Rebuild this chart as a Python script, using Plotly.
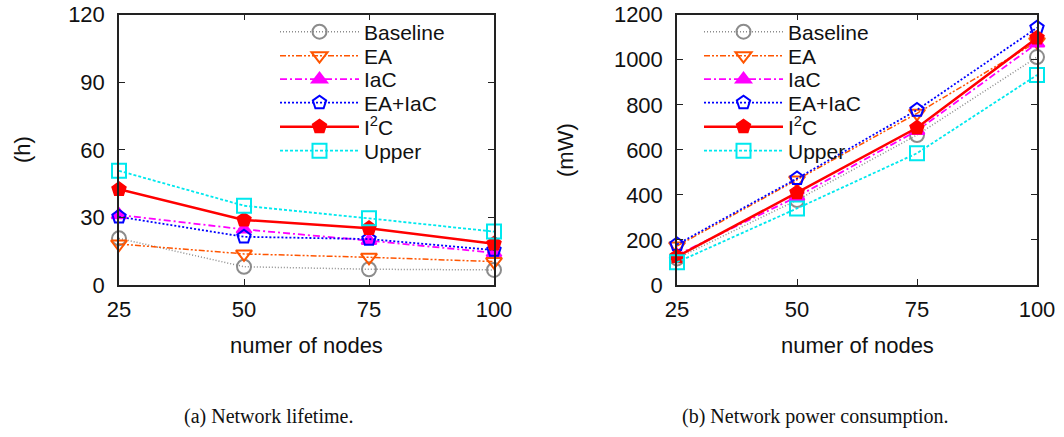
import plotly.graph_objects as go

# x: number of nodes
nodes = [25, 50, 75, 100]

# (a) network lifetime in hours
life_baseline = [20.7, 8.1, 7.0, 6.7]
life_ea = [18.2, 13.8, 12.3, 10.4]
life_iac = [31.1, 24.7, 19.7, 14.3]
life_eaiac = [30.3, 21.4, 20.4, 15.5]
life_i2c = [42.5, 28.9, 25.2, 18.3]
life_upper = [50.7, 35.2, 29.6, 23.7]

# (b) network power consumption in mW
pow_baseline = [118, 377, 666, 1012]
pow_ea = [173, 466, 762, 1080]
pow_iac = [133, 392, 685, 1073]
pow_eaiac = [180, 473, 777, 1142]
pow_i2c = [126, 410, 698, 1097]
pow_upper = [101, 340, 585, 932]

names = ["Baseline", "EA", "IaC", "EA+IaC", "I<sup>2</sup>C", "Upper"]
life = [life_baseline, life_ea, life_iac, life_eaiac, life_i2c, life_upper]
power = [pow_baseline, pow_ea, pow_iac, pow_eaiac, pow_i2c, pow_upper]

styles = [
    dict(color="#8c8c8c", dash="1px,2px", width=1.5, symbol="circle-open"),
    dict(color="#ff5500", dash="6px,2px,2px,2px,2px,2px", width=1.5, symbol="triangle-down-open"),
    dict(color="#ff00ff", dash="7px,3px,2px,3px", width=1.8, symbol="triangle-up"),
    dict(color="#0000ff", dash="2px,2px", width=1.8, symbol="pentagon-open"),
    dict(color="#ff0000", dash="solid", width=2.5, symbol="pentagon"),
    dict(color="#00e8ee", dash="3px,2px", width=1.8, symbol="square-open"),
]

W, H = 1064, 437
FONT = "Liberation Sans, Arial, sans-serif"
FS = 22

# legend rows (pixel centres) and left edges of each panel's key
row_y = [32, 56, 79.5, 103, 127, 151]
key_x = [275, 699]

fig = go.Figure()
legends = {}

for panel, data in enumerate([life, power]):
    xa = "x" if panel == 0 else "x2"
    ya = "y" if panel == 0 else "y2"
    for i, (name, vals, st) in enumerate(zip(names, data, styles)):
        n = panel * len(names) + i + 1
        leg = "legend" if n == 1 else f"legend{n}"
        legends[leg] = dict(
            x=key_x[panel] / W, y=1 - row_y[i] / H, xanchor="left", yanchor="middle",
            bgcolor="rgba(0,0,0,0)", itemwidth=79, borderwidth=0,
            font=dict(family=FONT, size=21, color="#111"),
        )
        fig.add_trace(go.Scatter(
            x=nodes, y=vals, name=name, mode="lines+markers",
            xaxis=xa, yaxis=ya, legend=leg, cliponaxis=False,
            line=dict(color=st["color"], dash=st["dash"], width=st["width"]),
            marker=dict(symbol=st["symbol"], size=14 if st["symbol"] != "triangle-up" else 13,
                        color=st["color"], line=dict(color=st["color"], width=2)),
        ))

axis_common = dict(
    showgrid=False, zeroline=False, showline=True, linecolor="#222", linewidth=1.5,
    mirror="allticks", ticks="inside", ticklen=6, tickcolor="#222", automargin=False,
    tickfont=dict(family=FONT, size=FS, color="#111"),
)

L0, L1 = 119 / W, 494 / W
R0, R1 = 677 / W, 1037 / W
YB, YT = 1 - 285 / H, 1 - 14.7 / H

fig.update_layout(
    template="simple_white",
    width=W, height=H, margin=dict(l=0, r=0, t=0, b=0, autoexpand=False),
    paper_bgcolor="white", plot_bgcolor="white",
    showlegend=True,
    xaxis=dict(domain=[L0, L1], range=[25, 100], tickvals=nodes, anchor="y",
               ticklabelstandoff=4, **axis_common),
    yaxis=dict(domain=[YB, YT], range=[0, 120], tickvals=[0, 30, 60, 90, 120], anchor="x",
               ticklabelstandoff=8, **axis_common),
    xaxis2=dict(domain=[R0, R1], range=[25, 100], tickvals=nodes, anchor="y2",
                ticklabelstandoff=4, **axis_common),
    yaxis2=dict(domain=[YB, YT], range=[0, 1200], tickvals=[0, 200, 400, 600, 800, 1000, 1200],
                anchor="x2", ticklabelstandoff=8, **axis_common),
    **legends,
)

annotations = [
    dict(text="numer of nodes", x=(L0 + L1) / 2, y=1 - 345 / H),
    dict(text="numer of nodes", x=(R0 + R1) / 2, y=1 - 345 / H),
    dict(text="(h)", x=22 / W, y=1 - 150 / H, textangle=-90),
    dict(text="(mW)", x=565 / W, y=1 - 150 / H, textangle=-90),
]
for a in annotations:
    fig.add_annotation(xref="paper", yref="paper", showarrow=False,
                       xanchor="center", yanchor="middle",
                       font=dict(family=FONT, size=FS, color="#111"), **a)

for text, cx in [("(a) Network lifetime.", 268), ("(b) Network power consumption.", 815)]:
    fig.add_annotation(xref="paper", yref="paper", showarrow=False,
                       x=cx / W, y=1 - 416 / H, xanchor="center", yanchor="middle",
                       text=text, font=dict(family="Liberation Serif, Times New Roman, serif",
                                            size=20, color="#111"))

fig.write_html("out.html")
